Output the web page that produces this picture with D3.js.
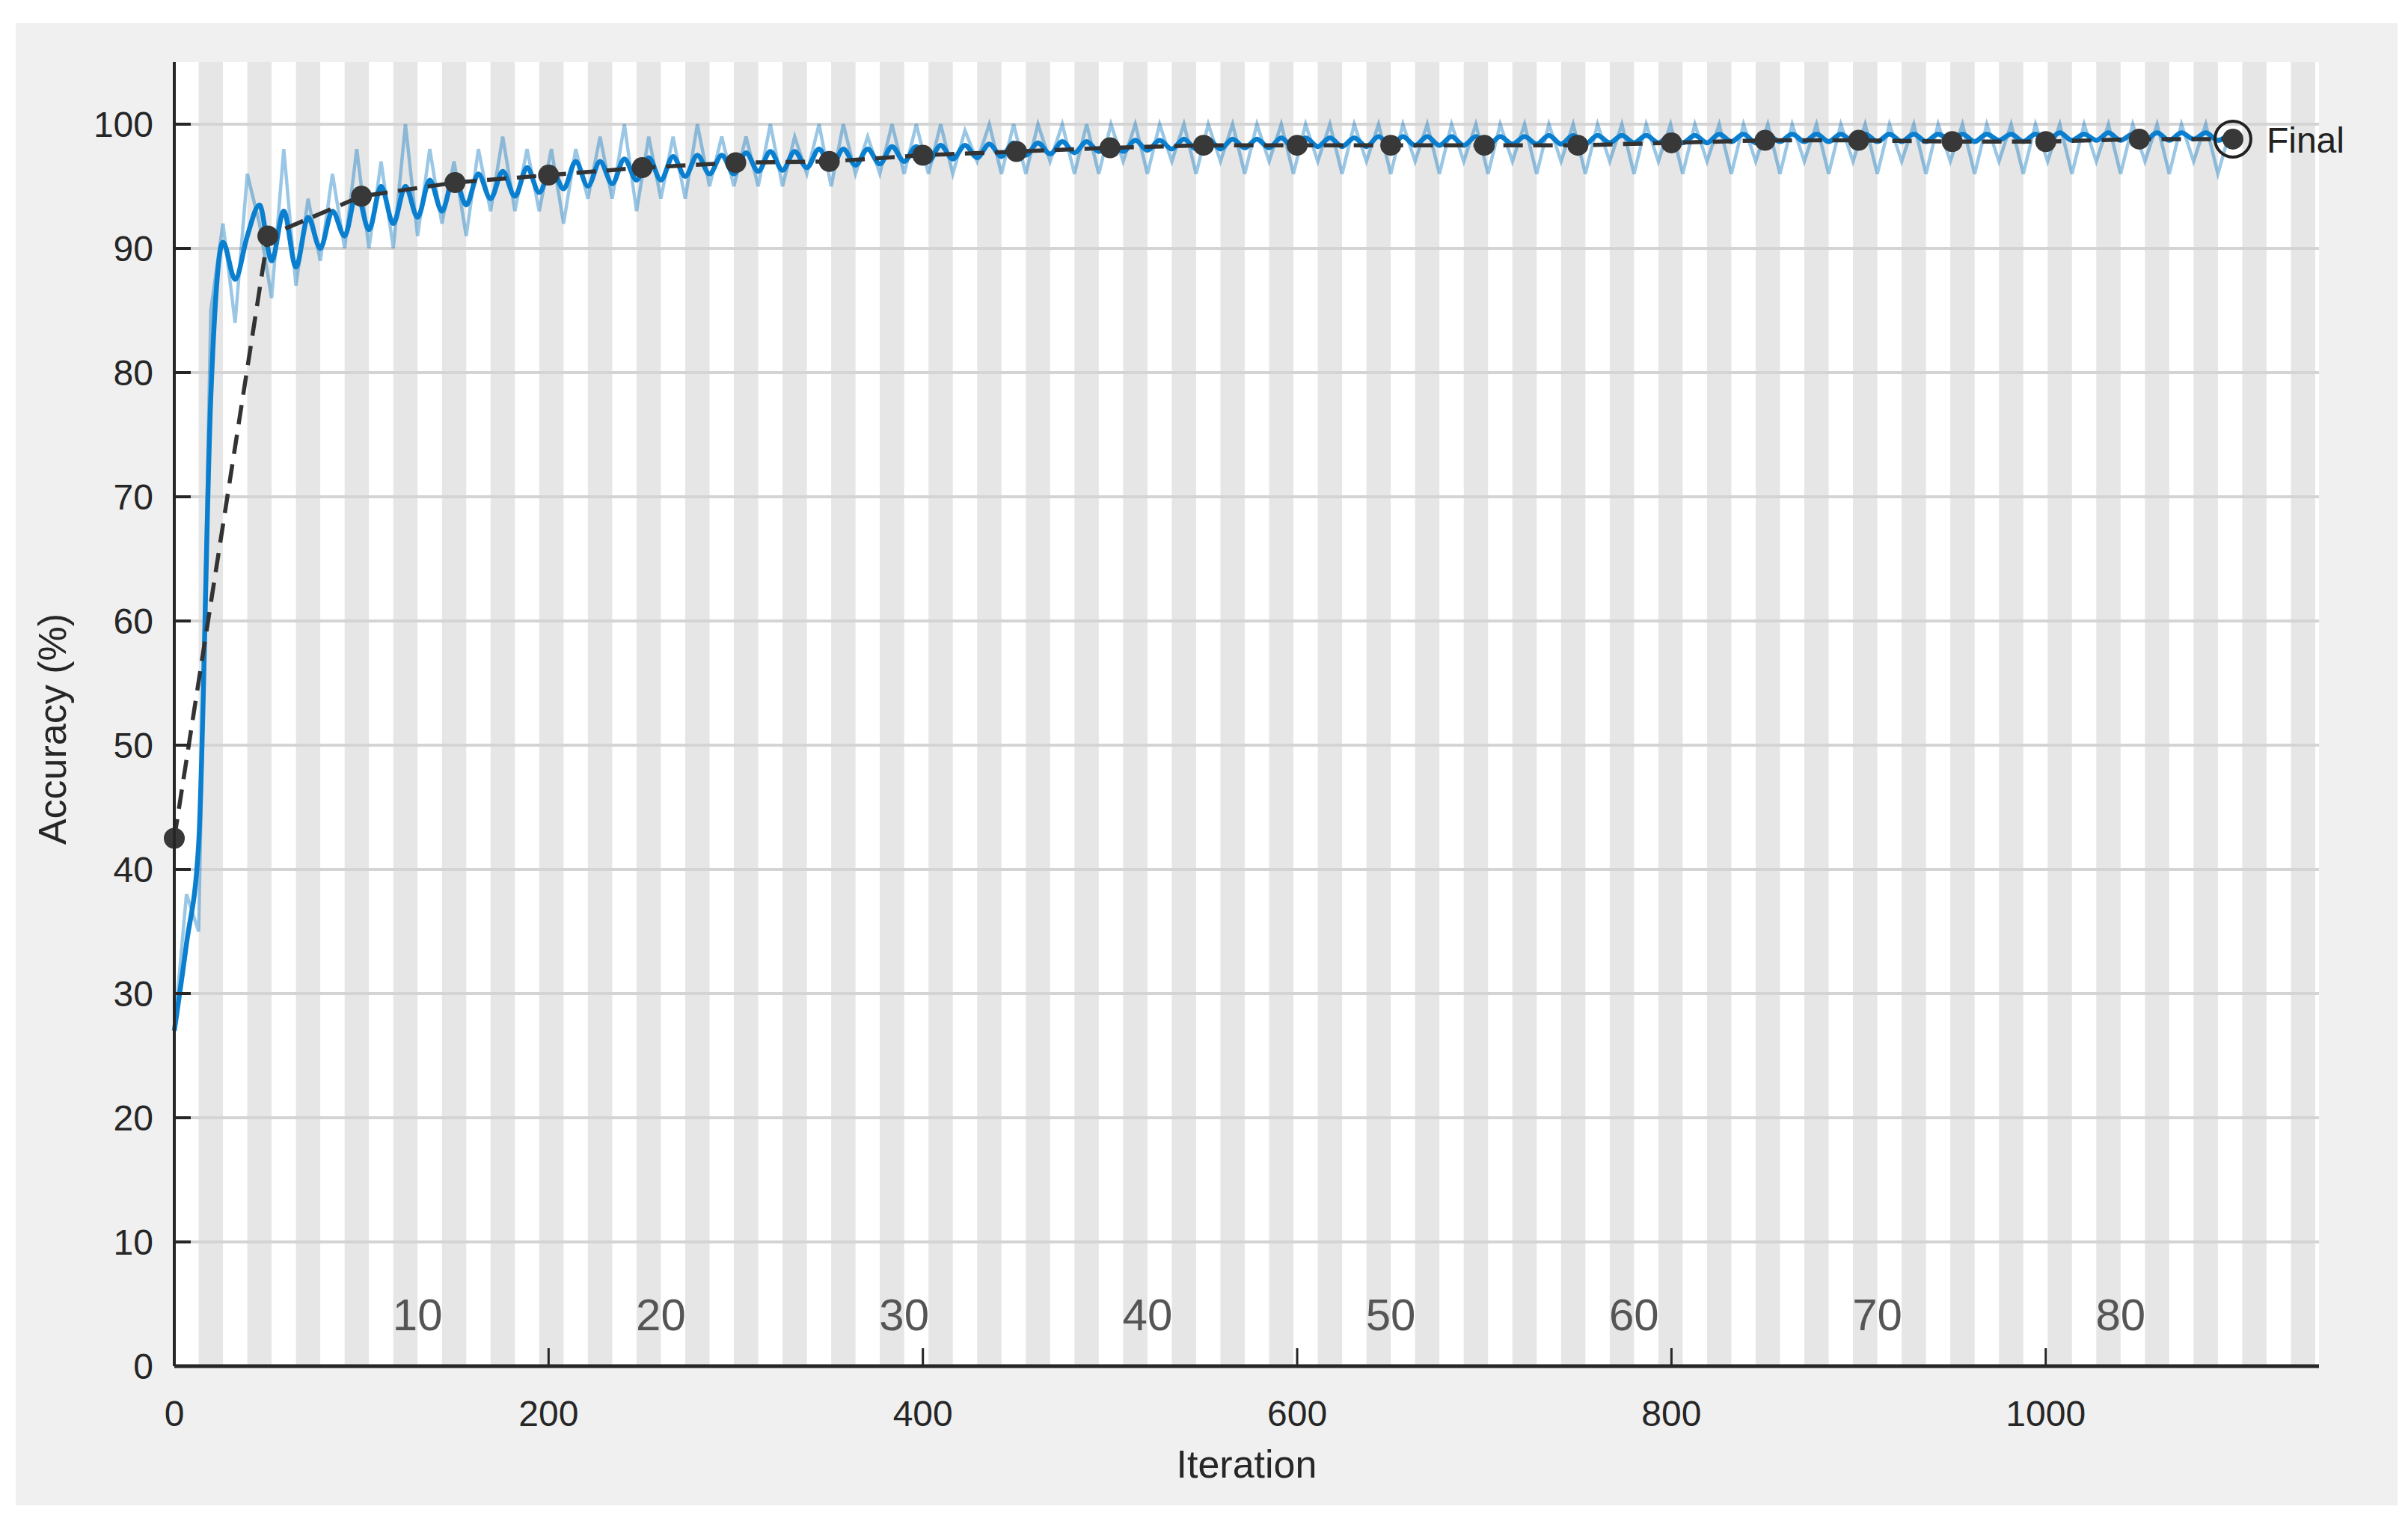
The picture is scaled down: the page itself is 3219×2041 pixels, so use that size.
<!DOCTYPE html>
<html><head><meta charset="utf-8">
<script src="https://cdn.jsdelivr.net/npm/d3@7"></script>
<style>body{margin:0;background:#fff}text{font-family:"Liberation Sans",Arial,sans-serif}</style>
</head><body><svg id="c" width="3219" height="2041"></svg>
<script>
const xTicks=[0,200,400,600,800,1000];
const yTicks=[0,10,20,30,40,50,60,70,80,90,100];
const epochLabels=[10,20,30,40,50,60,70,80];
const itersPerEpoch=13, nEpochs=89;
const sampleStep=6.5;
const smoothed=[27,34,42,78,90.5,87.5,91,93.5,89,93,
88.5,92.5,90,93,91,94.5,91.5,95,92,95,
92.5,95.5,93,95.8,93.5,96,94,96.2,94.2,96.5,
94.5,96.5,94.8,97,95,97,95.2,97.2,95.5,97.3,
95.5,97.4,95.8,97.5,96,97.5,96,97.7,96.2,97.8,
96.3,97.8,96.5,98,96.5,98,96.7,98,96.8,98.2,
97,98.2,97,98.3,97.2,98.3,97.3,98.4,97.4,98.5,
97.5,98.5,97.6,98.6,97.7,98.6,97.8,98.7,97.8,98.7,
97.9,98.7,98,98.8,98,98.8,98,98.8,98.1,98.8,
98.1,98.9,98.1,98.9,98.2,98.9,98.2,98.9,98.2,99,
98.2,99,98.3,99,98.3,99,98.3,99,98.3,99,
98.4,99,98.4,99.1,98.4,99.1,98.4,99.1,98.5,99.1,
98.5,99.1,98.5,99.1,98.5,99.1,98.5,99.2,98.6,99.2,
98.5,99.1,98.6,99.2,98.6,99.2,98.6,99.2,98.6,99.2,
98.6,99.2,98.6,99.2,98.6,99.2,98.7,99.2,98.6,99.2,
98.7,99.2,98.6,99.2,98.7,99.3,98.7,99.2,98.7,99.3,
98.7,99.2,98.7,99.3,98.7,99.3,98.8,99.3,98.7,99.3];
const raw=[27,38,35,85,92,84,96,92,86,98,
87,94,89,96,90,98,90,97,90,100,
91,98,92,97,91,98,93,99,93,98,
93,98,92,98,94,99,94,100,93,99,
94,99,94,100,95,99,95,99,95,100,
95,99,96,100,95,100,96,99,96,100,
96,100,96,100,96,99.5,97,100,96,100,
96,100,97,100,96,100,96,100,97,100,
96,100,97,100,96,100,97,100,96,100,
97,100,96,100,97,100,96,100,97,100,
96,100,97,100,96,100,97,100,96,100,
97,100,96,100,97,100,96,100,97,100,
96,100,97,100,96,100,97,100,96,100,
97,100,96,100,97,100,96,100,97,100,
96,100,97,100,96,100,97,100,96,100,
97,100,96,100,97,100,96,100,97,100,
96,100,97,100,96,100,97,100,96,99.5];
const valIter=[0,50,100,150,200,250,300,350,400,450,500,550,600,650,700,750,800,850,900,950,1000,1050,1100];
const valAcc=[42.5,91,94.2,95.3,95.9,96.5,96.9,97,97.5,97.8,98.1,98.3,98.3,98.3,98.3,98.3,98.5,98.7,98.7,98.6,98.6,98.8,98.8];

const svg=d3.select("#c");
svg.append("rect").attr("x",21).attr("y",31).attr("width",3184).attr("height",1981).attr("fill","#f0f0f0");
const L=233,R=3100,T=83,B=1826;
const x=d3.scaleLinear().domain([0,1146]).range([L,R]);
const y=d3.scaleLinear().domain([0,105]).range([B,T]);
svg.append("rect").attr("x",L).attr("y",T).attr("width",R-L).attr("height",B-T).attr("fill","#fff");
const g=svg.append("g");
for(let e=1;e<=nEpochs;e++){
  const x0=x((e-1)*itersPerEpoch), x1=Math.min(x(e*itersPerEpoch),R);
  if(x0>=R)break;
  if(e%2===0) g.append("rect").attr("x",x0).attr("y",T).attr("width",x1-x0).attr("height",B-T).attr("fill","#e6e6e6");
}
g.selectAll(".gl").data(yTicks.filter(d=>d>0)).join("line").attr("x1",L).attr("x2",R)
 .attr("y1",d=>y(d)).attr("y2",d=>y(d)).attr("stroke","#d4d4d4").attr("stroke-width",4);
g.selectAll(".el").data(epochLabels).join("text").attr("x",d=>x(d*itersPerEpoch)).attr("y",y(2.9))
 .attr("text-anchor","middle").attr("font-size",60).attr("fill","#555").text(d=>d);
const idx=d3.range(raw.length);
const line=d3.line().x(i=>x(i*sampleStep)).curve(d3.curveLinear);
g.append("path").datum(idx).attr("d",line.y(i=>y(raw[i]))).attr("fill","none").attr("stroke","#0072bd").attr("stroke-opacity",0.4).attr("stroke-width",4.5);
const line2=d3.line().x(i=>x(i*sampleStep)).y(i=>y(smoothed[i])).curve(d3.curveMonotoneX);
g.append("path").datum(idx).attr("d",line2).attr("fill","none").attr("stroke","#0a7fcf").attr("stroke-width",6.5);
const vl=d3.line().x((d,i)=>x(valIter[i])).y((d,i)=>y(valAcc[i]));
g.append("path").datum(valAcc).attr("d",vl).attr("fill","none").attr("stroke","#333").attr("stroke-width",5.5).attr("stroke-dasharray","26,14");
g.selectAll(".vd").data(valAcc).join("circle").attr("cx",(d,i)=>x(valIter[i])).attr("cy",d=>y(d)).attr("r",14).attr("fill","#383838");
const fi=valIter.length-1;
g.append("circle").attr("cx",x(valIter[fi])).attr("cy",y(valAcc[fi])).attr("r",24).attr("fill","none").attr("stroke","#222").attr("stroke-width",4);
g.append("text").attr("x",x(valIter[fi])+45).attr("y",y(valAcc[fi])+18).attr("font-size",48).attr("fill","#222").text("Final");
g.append("line").attr("x1",L).attr("x2",L).attr("y1",T).attr("y2",B).attr("stroke","#262626").attr("stroke-width",4);
g.append("line").attr("x1",L).attr("x2",R).attr("y1",B).attr("y2",B).attr("stroke","#262626").attr("stroke-width",5);
g.selectAll(".yt").data(yTicks).join("line").attr("x1",L).attr("x2",L+22).attr("y1",d=>y(d)).attr("y2",d=>y(d)).attr("stroke","#262626").attr("stroke-width",4);
g.selectAll(".ytl").data(yTicks).join("text").attr("x",L-28).attr("y",d=>y(d)+17).attr("text-anchor","end").attr("font-size",48).attr("fill","#262626").text(d=>d);
g.selectAll(".xt").data(xTicks).join("line").attr("x1",d=>x(d)).attr("x2",d=>x(d)).attr("y1",B).attr("y2",B-24).attr("stroke","#262626").attr("stroke-width",3);
g.selectAll(".xtl").data(xTicks).join("text").attr("x",d=>x(d)).attr("y",B+80).attr("text-anchor","middle").attr("font-size",48).attr("fill","#262626").text(d=>d);
svg.append("text").attr("x",(L+R)/2).attr("y",1975).attr("text-anchor","middle").attr("font-size",52).attr("fill","#262626").text("Iteration");
svg.append("text").attr("transform",`translate(88,${(T+B)/2+20}) rotate(-90)`).attr("text-anchor","middle").attr("font-size",52).attr("fill","#262626").text("Accuracy (%)");
</script></body></html>
